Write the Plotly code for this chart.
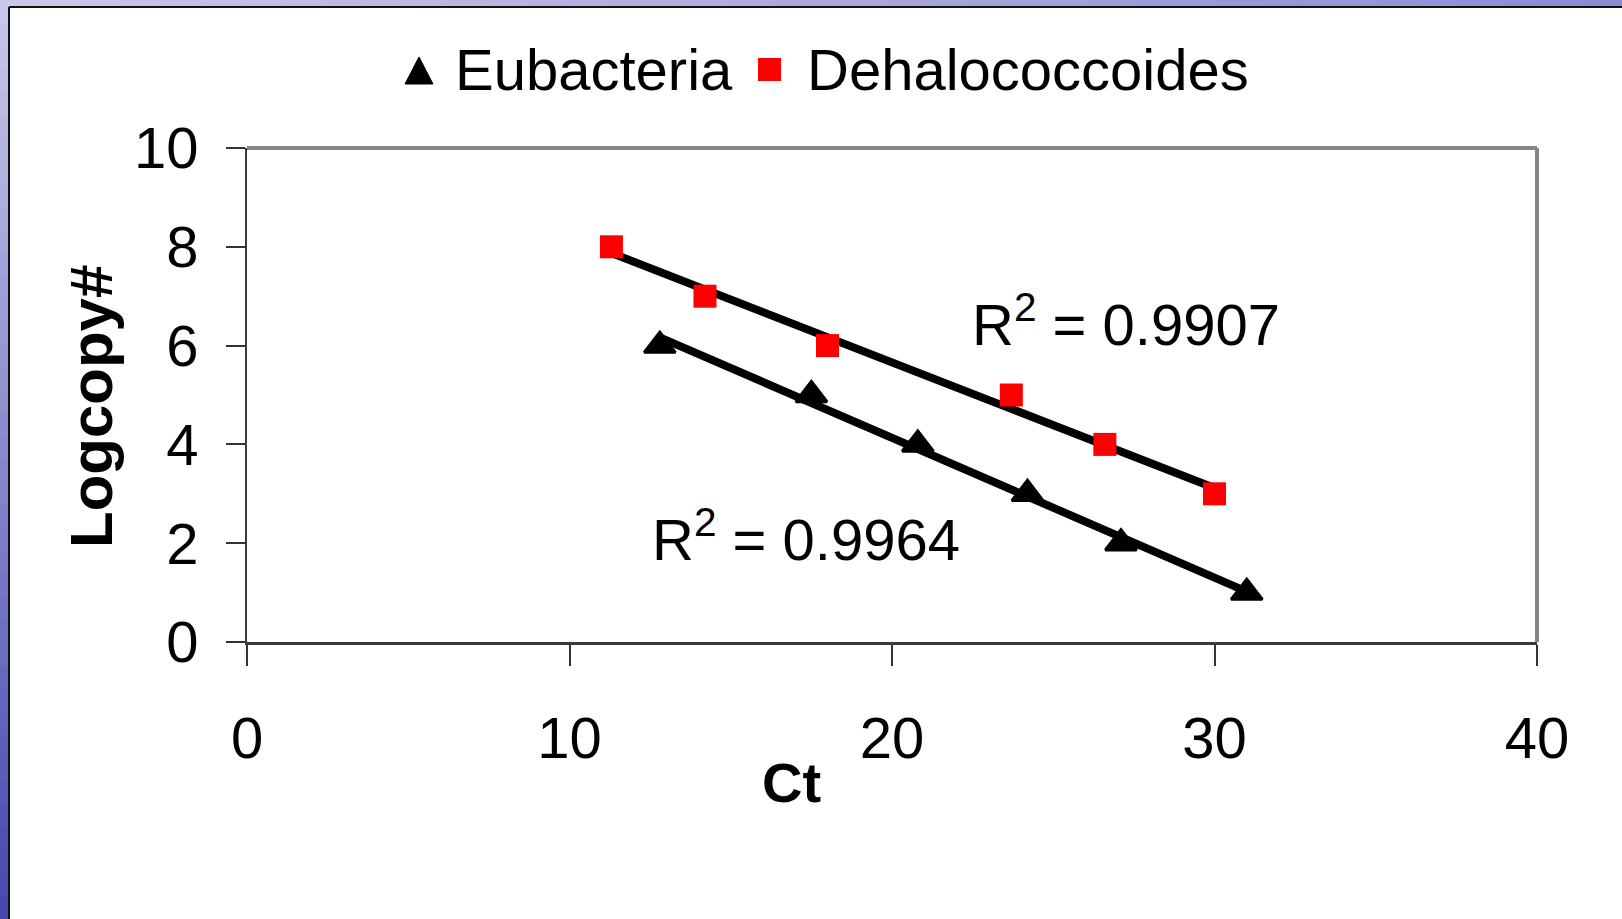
import numpy as np
import plotly.graph_objects as go

# ---- data ----
eub_ct = [12.8, 17.5, 20.8, 24.2, 27.1, 31.0]
eub_log = [6, 5, 4, 3, 2, 1]
deh_ct = [11.3, 14.2, 18.0, 23.7, 26.6, 30.0]
deh_log = [8, 7, 6, 5, 4, 3]
series_names = ["Eubacteria", "Dehalococcoides"]
eub_r2 = "0.9964"
deh_r2 = "0.9907"
x_ticks = [0, 10, 20, 30, 40]
y_ticks = [0, 2, 4, 6, 8, 10]

W, H = 1622, 919
L, R, T, B = 247, 1537, 148, 642  # plot area in pixels


def px(xp):
    return (xp - L) / (R - L)


def py(yp):
    return (B - yp) / (B - T)


FONT = "Liberation Sans, Arial, sans-serif"
FS = 58

fig = go.Figure()

# trendlines (linear fits of each series)
for xs, ys in [(deh_ct, deh_log), (eub_ct, eub_log)]:
    k, b = np.polyfit(xs, ys, 1)
    xx = np.array([min(xs), max(xs)])
    fig.add_trace(go.Scatter(x=xx, y=k * xx + b, mode="lines",
                             line=dict(color="black", width=8),
                             showlegend=False, hoverinfo="skip"))

fig.add_trace(go.Scatter(x=eub_ct, y=eub_log, mode="markers", name=series_names[0],
                         showlegend=False,
                         marker=dict(symbol="triangle-up", size=27, color="black",
                                     line=dict(color="black", width=3))))
fig.add_trace(go.Scatter(x=deh_ct, y=deh_log, mode="markers", name=series_names[1],
                         showlegend=False,
                         marker=dict(symbol="square", size=23, color="#ff0000",
                                     line=dict(width=0))))

shapes = []
# left gradient strip
n = 40
c_top = np.array([200, 200, 234])
c_bot = np.array([72, 72, 176])
for i in range(n):
    t0 = i / n * H
    t1 = (i + 1) / n * H + 1
    c = c_top + (c_bot - c_top) * (i / (n - 1))
    shapes.append(dict(type="rect", xref="paper", yref="paper",
                       x0=px(0), x1=px(9), y0=py(t0), y1=py(t1),
                       fillcolor="rgb(%d,%d,%d)" % tuple(c), line=dict(width=0), layer="below"))
# top gradient strip
c_l = np.array([200, 200, 234])
c_r = np.array([140, 140, 212])
for i in range(n):
    s0 = i / n * W
    s1 = (i + 1) / n * W + 1
    c = c_l + (c_r - c_l) * (i / (n - 1))
    shapes.append(dict(type="rect", xref="paper", yref="paper",
                       x0=px(s0), x1=px(s1), y0=py(0), y1=py(7),
                       fillcolor="rgb(%d,%d,%d)" % tuple(c), line=dict(width=0), layer="below"))
# black panel border
shapes.append(dict(type="line", xref="paper", yref="paper", x0=px(9), x1=px(9),
                   y0=py(7), y1=py(H), line=dict(color="#111", width=2)))
shapes.append(dict(type="line", xref="paper", yref="paper", x0=px(9), x1=px(W),
                   y0=py(7), y1=py(7), line=dict(color="#111", width=2)))
# plot-area top/right border (gray)
shapes.append(dict(type="line", xref="paper", yref="paper", x0=0, x1=1, y0=1, y1=1,
                   line=dict(color="#858585", width=4)))
shapes.append(dict(type="line", xref="paper", yref="paper", x0=1, x1=1, y0=0, y1=1,
                   line=dict(color="#858585", width=4)))

# legend symbols
tri = "M %f,%f L %f,%f L %f,%f Z" % (px(405), py(84), px(433), py(84), px(419), py(57))
shapes.append(dict(type="path", xref="paper", yref="paper", path=tri,
                   fillcolor="black", line=dict(color="black", width=1)))
shapes.append(dict(type="rect", xref="paper", yref="paper",
                   x0=px(758), x1=px(781), y0=py(81), y1=py(58),
                   fillcolor="#ff0000", line=dict(width=0)))

annotations = [
    dict(text=series_names[0], xref="paper", yref="paper", x=px(453), y=py(70),
         showarrow=False, xanchor="left", yanchor="middle",
         font=dict(family=FONT, size=FS, color="black")),
    dict(text=series_names[1], xref="paper", yref="paper", x=px(805), y=py(70),
         showarrow=False, xanchor="left", yanchor="middle",
         font=dict(family=FONT, size=FS, color="black")),
    dict(text="<b>Ct</b>", xref="paper", yref="paper", x=px(791), y=py(782),
         showarrow=False, font=dict(family=FONT, size=56, color="black"),
         xanchor="center", yanchor="middle"),
    dict(text="<b>Logcopy#</b>", xref="paper", yref="paper", x=px(91), y=py(407),
         showarrow=False, textangle=-90, font=dict(family=FONT, size=60, color="black"),
         xanchor="center", yanchor="middle"),
    dict(text="R<sup>2</sup> = " + deh_r2, x=27.27, y=6.5, xref="x", yref="y",
         showarrow=False, font=dict(family=FONT, size=FS, color="black")),
    dict(text="R<sup>2</sup> = " + eub_r2, x=17.33, y=2.15, xref="x", yref="y",
         showarrow=False, font=dict(family=FONT, size=FS, color="black")),
]

fig.update_layout(
    width=W, height=H,
    margin=dict(l=L, r=W - R, t=T, b=H - B),
    paper_bgcolor="white", plot_bgcolor="white",
    font=dict(family=FONT, size=FS, color="black"),
    shapes=shapes, annotations=annotations,
    showlegend=False,
)
fig.update_xaxes(range=[0, 40], tickvals=x_ticks, showgrid=False, zeroline=False,
                 showline=True, linecolor="#3a3a3a", linewidth=3,
                 ticks="outside", ticklen=21, tickwidth=1.5, tickcolor="#333",
                 ticklabelstandoff=22,
                 tickfont=dict(family=FONT, size=FS, color="black"))
fig.update_yaxes(range=[0, 10], tickvals=y_ticks, showgrid=False, zeroline=False,
                 showline=True, linecolor="#3a3a3a", linewidth=2,
                 ticks="outside", ticklen=19, tickwidth=1.5, tickcolor="#333",
                 ticklabelstandoff=16,
                 tickfont=dict(family=FONT, size=FS, color="black"))

fig.write_html("out.html")
